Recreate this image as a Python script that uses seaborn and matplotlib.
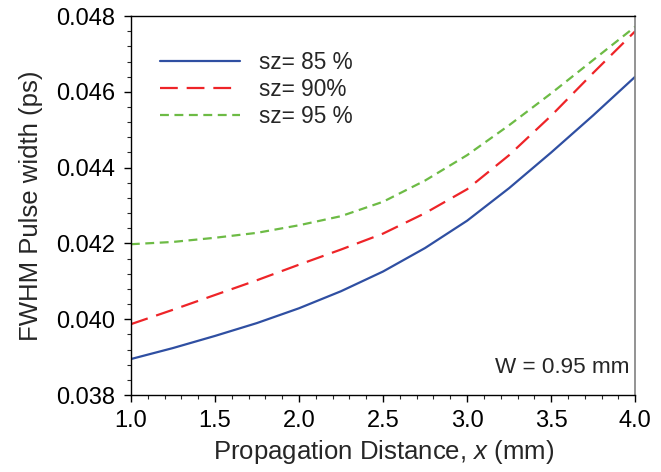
import numpy as np
import pandas as pd
import matplotlib
matplotlib.use("Agg")
import matplotlib.pyplot as plt
from matplotlib.ticker import MultipleLocator, FormatStrFormatter
import seaborn as sns

x_vals = [1.0, 1.25, 1.5, 1.75, 2.0, 2.25, 2.5, 2.75, 3.0, 3.25, 3.5, 3.75, 4.0]
sz85 = [0.03895, 0.03924, 0.03956, 0.03990, 0.04029, 0.04074, 0.04126, 0.04188,
        0.04260, 0.04346, 0.04440, 0.04538, 0.04640]
sz90 = [0.03987, 0.04025, 0.04064, 0.04103, 0.04144, 0.04184, 0.04226, 0.04280,
        0.04343, 0.04433, 0.04537, 0.04650, 0.04760]
sz95 = [0.04198, 0.04204, 0.04215, 0.04228, 0.04248, 0.04272, 0.04310, 0.04366,
        0.04433, 0.04512, 0.04596, 0.04684, 0.04772]
labels = ["sz= 85 %", "sz= 90%", "sz= 95 %"]

df = pd.DataFrame({
    "x": x_vals * 3,
    "y": sz85 + sz90 + sz95,
    "series": [labels[0]] * len(x_vals) + [labels[1]] * len(x_vals) + [labels[2]] * len(x_vals),
})

sns.set_style("ticks")
plt.rcParams["font.family"] = ["Liberation Sans", "DejaVu Sans"]
plt.rcParams["mathtext.fontset"] = "custom"
plt.rcParams["mathtext.rm"] = "Liberation Sans"
plt.rcParams["mathtext.it"] = "Liberation Sans:italic"

fig = plt.figure(figsize=(6.61, 4.72), dpi=100)
ax = fig.add_axes([0.198, 0.163, 0.763, 0.803])

palette = {labels[0]: "#2F4FA2", labels[1]: "#EE2428", labels[2]: "#6DBB45"}
dashes = {labels[0]: "", labels[1]: (8, 4), labels[2]: (4, 2.5)}
sns.lineplot(data=df, x="x", y="y", hue="series", style="series",
             palette=palette, dashes=dashes, ax=ax, linewidth=1.6, legend=False)

for lab in labels:
    ax.plot([], [], color=palette[lab], linewidth=1.6,
            dashes=dashes[lab] if dashes[lab] else (None, None), label=lab)
ax.legend(loc="upper left", bbox_to_anchor=(0.0, 0.985), frameon=False, fontsize=16.3,
          handlelength=3.5, handletextpad=0.85, labelspacing=0.17, borderaxespad=0.9)

ax.set_xlim(1.0, 4.0)
ax.set_ylim(0.038, 0.048)
ax.xaxis.set_major_locator(MultipleLocator(0.5))
ax.xaxis.set_minor_locator(MultipleLocator(0.1))
ax.yaxis.set_major_locator(MultipleLocator(0.002))
ax.yaxis.set_minor_locator(MultipleLocator(0.0004))
ax.xaxis.set_major_formatter(FormatStrFormatter("%.1f"))
ax.yaxis.set_major_formatter(FormatStrFormatter("%.3f"))
ax.tick_params(axis="both", which="major", direction="out", length=5, width=1,
               labelsize=17, pad=6, colors="black")
ax.tick_params(axis="both", which="minor", direction="out", length=3, width=0.8)

for s in ["left", "bottom", "top"]:
    ax.spines[s].set_color("black")
    ax.spines[s].set_linewidth(1.0)
ax.spines["right"].set_color("#808080")
ax.spines["right"].set_linewidth(1.2)

ax.set_xlabel("Propagation Distance, $x$ (mm)", fontsize=18.5, labelpad=4)
ax.set_ylabel("FWHM Pulse width (ps)", fontsize=18.5, labelpad=10)

ax.text(0.988, 0.045, "W = 0.95 mm", transform=ax.transAxes, ha="right", va="bottom",
        fontsize=16.2)

fig.savefig("out.png", dpi=100)
